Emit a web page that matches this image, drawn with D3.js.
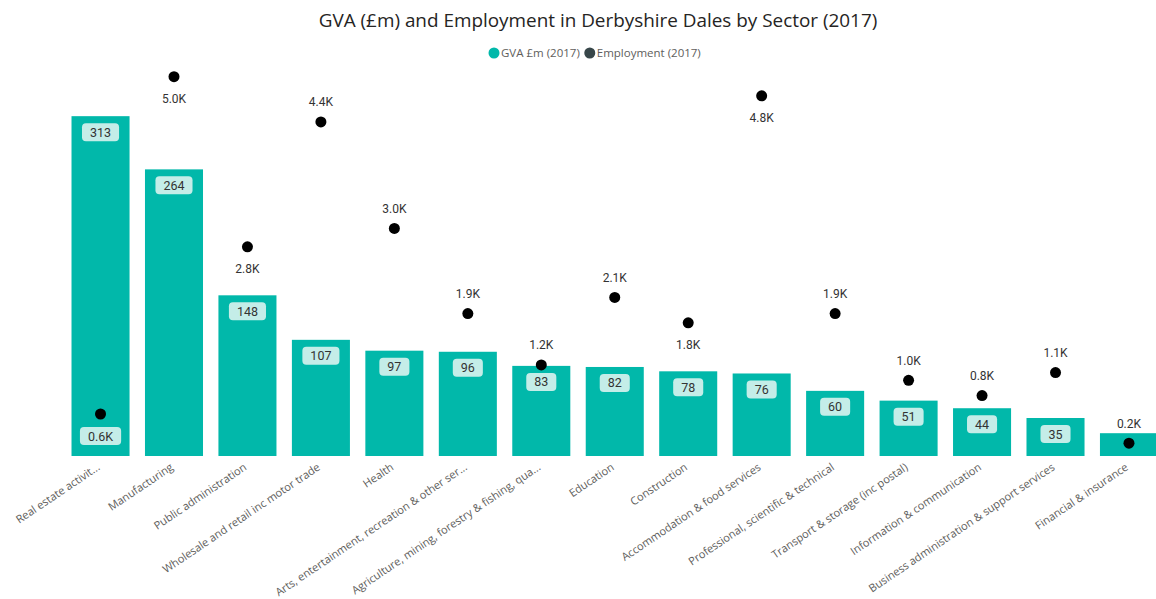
<!DOCTYPE html>
<html>
<head>
<meta charset="utf-8">
<script src="https://cdn.jsdelivr.net/npm/d3@7"></script>
<style>
  body { margin: 0; background: #fff; }
  svg { display: block; }
</style>
</head>
<body>
<div id="chart"></div>
<script>
// Chart data
const categories = [
  "Real estate activit...", "Manufacturing", "Public administration",
  "Wholesale and retail inc motor trade", "Health",
  "Arts, entertainment, recreation & other ser...",
  "Agriculture, mining, forestry & fishing, qua...", "Education", "Construction",
  "Accommodation & food services", "Professional, scientific & technical",
  "Transport & storage (inc postal)", "Information & communication",
  "Business administration & support services", "Financial & insurance"
]
const gva = [313, 264, 148, 107, 97, 96, 83, 82, 78, 76, 60, 51, 44, 35, 21]
const employment = [600, 5000, 2780, 4410, 3020, 1910, 1240, 2120, 1790, 4750, 1910, 1040, 840, 1140, 220]
// labels that Power BI pushed under the dot
const empLabelBelow = ["Real estate activit...", "Manufacturing", "Public administration", "Construction", "Accommodation & food services"]
const legendItems = ["GVA £m (2017)", "Employment (2017)"]

// Sizes and colours
const width = 1156
const height = 599
const bar_color = "#01B8AA"
const box_color = "#C4EDE8"
const dot_color = "#000000"
const legend_colors = ["#01B8AA", "#374649"]

const svg = d3.select("#chart").append("svg")
    .attr("width", width)
    .attr("height", height)

// Scales
const x = d3.scaleBand()
    .domain(categories)
    .range([63.8, 1165.7])
    .paddingInner(0.21)
    .paddingOuter(0.105)

const y = d3.scaleLinear().domain([0, 420]).range([456, 0])
const y2 = d3.scaleLinear().domain([0, 6000]).range([460, 0])

// Title
svg.append("text")
    .attr("x", 598)
    .attr("y", 27)
    .attr("text-anchor", "middle")
    .attr("font-family", "Open Sans, sans-serif")
    .attr("font-size", 18.9)
    .attr("fill", "#252423")
    .text("GVA (£m) and Employment in Derbyshire Dales by Sector (2017)")

// Legend
const legend = svg.append("g")
let lx = 494
legendItems.forEach((name, i) => {
    legend.append("circle")
        .attr("cx", lx).attr("cy", 53).attr("r", 5.5)
        .attr("fill", legend_colors[i])
    const t = legend.append("text")
        .attr("x", lx + 7).attr("y", 57)
        .attr("font-family", "Open Sans, sans-serif")
        .attr("font-size", 11.5)
        .attr("fill", "#605E5C")
        .text(name)
    lx += 7 + t.node().getComputedTextLength() + 10
})

// Bars
svg.append("g").selectAll("rect")
    .data(categories)
    .join("rect")
    .attr("x", d => x(d))
    .attr("y", (d, i) => y(gva[i]))
    .attr("width", x.bandwidth())
    .attr("height", (d, i) => y(0) - y(gva[i]))
    .attr("fill", bar_color)

// helper for labels with a rounded box
function boxed_label(g, cx, cy, txt){
    const t = g.append("text")
        .attr("x", cx).attr("y", cy + 4.5)
        .attr("text-anchor", "middle")
        .attr("font-family", "Roboto, sans-serif")
        .attr("font-size", 12.5)
        .attr("fill", "#333333")
        .text(txt)
    const w = t.node().getComputedTextLength() + 16
    g.insert("rect", "text")
        .attr("x", cx - w / 2).attr("y", cy - 9)
        .attr("width", w).attr("height", 18)
        .attr("rx", 4)
        .attr("fill", box_color)
}

// Bar value labels (hidden when the bar is too short, as in the original)
const barLabels = svg.append("g")
categories.forEach((c, i) => {
    if (y(0) - y(gva[i]) < 30) return
    const g = barLabels.append("g")
    boxed_label(g, x(c) + x.bandwidth() / 2, y(gva[i]) + 16, d3.format("d")(gva[i]))
})

// Employment dots
svg.append("g").selectAll("circle")
    .data(categories)
    .join("circle")
    .attr("cx", d => x(d) + x.bandwidth() / 2)
    .attr("cy", (d, i) => y2(employment[i]))
    .attr("r", 5.5)
    .attr("fill", dot_color)

// Employment labels
const fmtK = v => (v / 1000).toFixed(1) + "K"
const empLabels = svg.append("g")
categories.forEach((c, i) => {
    const cx = x(c) + x.bandwidth() / 2
    const cy = y2(employment[i]) + (empLabelBelow.includes(c) ? 22 : -20)
    if (cy > y(gva[i])) {
        boxed_label(empLabels.append("g"), cx, cy, fmtK(employment[i]))
    } else {
        empLabels.append("text")
            .attr("x", cx).attr("y", cy + 4.5)
            .attr("text-anchor", "middle")
            .attr("font-family", "Roboto, sans-serif")
            .attr("font-size", 12)
            .attr("fill", "#333333")
            .text(fmtK(employment[i]))
    }
})

// X axis labels
svg.append("g").selectAll("text")
    .data(categories)
    .join("text")
    .attr("transform", d => "translate(" + (x(d) + x.bandwidth() / 2) + ",469) rotate(-34)")
    .attr("text-anchor", "end")
    .attr("font-family", "Open Sans, sans-serif")
    .attr("font-size", 11)
    .attr("fill", "#605E5C")
    .text(d => d)
</script>
</body>
</html>
